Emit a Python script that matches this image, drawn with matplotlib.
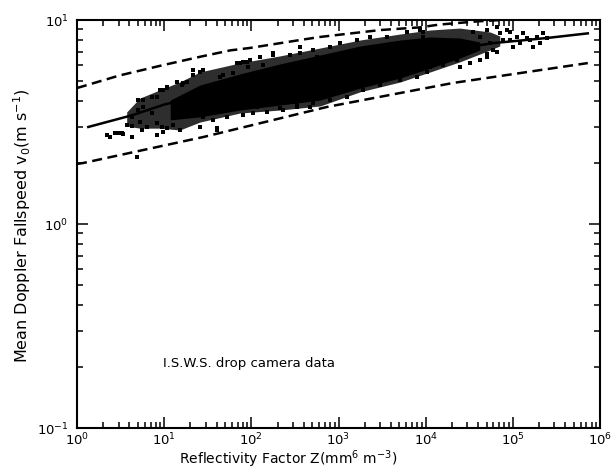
import matplotlib
matplotlib.use('Agg')
import numpy as np
import matplotlib.pyplot as plt
from matplotlib.ticker import LogLocator, NullFormatter, FixedLocator

# Отдельные точки облака: log10 Z и v0 (м/с)
pts_logz = [0.38, 0.52, 0.63, 0.69, 0.63, 0.72, 0.80, 0.86, 0.76, 0.70, 0.92, 0.99, 1.03,
            0.98, 1.03, 1.10, 1.18, 1.21, 1.26, 1.33, 1.41, 1.45, 1.61, 1.56, 1.64, 1.72,
            1.79, 1.95, 1.96, 2.02, 2.13, 2.18, 2.25, 2.36, 2.52, 2.56, 2.67, 2.75,
            0.34, 0.44, 0.57, 0.63, 0.70, 0.76, 0.86, 0.95, 1.03, 1.15, 1.22, 1.33, 1.45,
            1.68, 1.84, 1.90, 0.92, 0.99, 1.41, 1.61,
            1.87, 1.99, 2.10, 2.25, 2.44, 2.56, 2.71, 2.90, 3.02, 3.21, 3.36, 3.56, 3.79,
            3.97, 3.94, 2.07, 2.18, 2.33, 2.52, 2.71, 2.90, 3.10, 3.28, 3.48, 3.71, 3.90,
            4.02, 1.84, 1.90,
            3.97, 4.05, 4.20, 4.31, 4.39, 4.51, 4.54, 4.62, 4.70, 4.74, 4.77, 4.85, 4.93,
            4.97, 5.00, 5.08, 5.12, 5.20, 5.23, 5.31, 5.35, 5.39, 4.70, 4.62, 4.51, 4.39,
            4.89, 5.05, 5.16, 5.28, 4.82, 4.97, 4.70, 4.82, 4.36,
            0.47, 0.53, 0.75, 0.92]
pts_v = [2.67, 2.79, 2.67, 2.13, 3.02, 3.16, 2.99, 3.50, 3.75, 4.05, 4.19, 4.54, 4.70,
         2.99, 2.95, 3.06, 2.89, 4.80, 4.97, 5.69, 5.56, 3.35, 2.95, 3.24, 5.26, 3.35,
         5.50, 6.23, 5.88, 3.50, 6.02, 3.54, 6.74, 3.62, 3.92, 6.89, 3.75, 6.59,
         2.73, 2.79, 3.06, 3.35, 3.62, 4.05, 4.19, 4.54, 4.64, 4.97, 4.91, 5.38, 5.69,
         5.38, 6.16, 6.23, 3.13, 2.82, 2.99, 2.89,
         6.16, 6.37, 6.59, 6.89, 6.74, 7.37, 7.13, 7.37, 7.72, 7.98, 8.26, 8.26, 8.73,
         8.26, 8.93, 3.75, 3.54, 3.70, 3.75, 3.92, 4.05, 4.19, 4.54, 4.80, 5.08, 5.26,
         5.56, 3.92, 3.42,
         8.73, 5.88, 6.02, 6.59, 7.13, 7.72, 8.73, 8.26, 8.93, 7.72, 7.13, 8.64, 8.93,
         7.98, 7.37, 7.72, 8.64, 7.98, 7.37, 7.72, 8.64, 8.16, 6.59, 6.37, 6.16, 5.88,
         7.98, 8.26, 8.16, 8.26, 9.24, 8.73, 6.80, 6.97, 6.37,
         2.79, 2.76, 2.89, 2.73]

# Внешняя граница облака (там точки реже)
outer_logz = [0.57, 0.72, 0.95, 1.18, 1.41, 1.87, 2.33, 2.79, 3.25, 3.71, 4.05, 4.39, 4.74, 4.85]
outer_lo = [3.02, 2.95, 2.95, 2.89, 3.16, 3.50, 3.62, 3.79, 4.45, 4.97, 5.56, 6.23, 7.13, 7.46]
outer_hi = [3.54, 4.14, 4.54, 4.97, 5.56, 6.16, 6.67, 7.29, 7.98, 8.54, 8.93, 9.13, 8.73, 8.35]

# Плотное ядро облака (сплошная чёрная масса)
core_logz = [1.07, 1.41, 1.87, 2.33, 2.79, 3.25, 3.71, 4.05, 4.39, 4.62]
core_lo = [3.24, 3.35, 3.62, 3.83, 4.05, 4.64, 5.20, 5.80, 6.50, 7.13]
core_hi = [4.05, 4.80, 5.44, 6.09, 6.74, 7.46, 7.98, 8.26, 8.16, 7.80]

# Сплошная линия (подгонка)
fit_logz = [0.13, 0.64, 1.0, 2.0, 3.0, 4.0, 4.77, 5.39, 5.86]
fit_v = [2.99, 3.42, 3.85, 4.85, 5.85, 6.85, 7.70, 8.16, 8.60]

# Штриховые границы
up_logz = [0.0, 0.49, 0.98, 1.41, 1.76, 1.98, 2.56, 2.79, 3.48, 3.93, 4.16, 4.60, 5.20, 6.0]
up_v = [4.64, 5.35, 6.00, 6.60, 7.10, 7.29, 7.98, 8.26, 8.93, 9.20, 9.50, 9.85, 10.2, 10.5]
lo_logz = [0.0, 0.07, 1.45, 2.87, 4.31, 5.86]
lo_v = [1.97, 1.99, 2.67, 3.75, 4.91, 6.15]

fig = plt.figure(figsize=(6.14, 4.70), dpi=100)
ax = fig.add_axes([77 / 614, 1 - 428 / 470, 523 / 614, 408 / 470])

ax.fill_between(10 ** np.array(outer_logz), outer_lo, outer_hi, color='0.18', lw=0)
ax.fill_between(10 ** np.array(core_logz), core_lo, core_hi, color='black', lw=0)
ax.plot(10 ** np.array(fit_logz), fit_v, color='black', lw=1.8)
ax.scatter(10 ** np.array(pts_logz), pts_v, s=6, marker='s', color='black', lw=0)
ax.plot(10 ** np.array(up_logz), up_v, color='black', lw=1.8, ls=(0, (4, 2.2)))
ax.plot(10 ** np.array(lo_logz), lo_v, color='black', lw=1.8, ls=(0, (4, 2.2)))

ax.set_xscale('log')
ax.set_yscale('log')
ax.set_xlim(1, 1e6)
ax.set_ylim(0.1, 10)

ax.xaxis.set_major_locator(FixedLocator([10.0 ** k for k in range(7)]))
ax.yaxis.set_major_locator(FixedLocator([0.1, 1, 10]))
ax.xaxis.set_minor_locator(LogLocator(base=10, subs=np.arange(2, 10), numticks=20))
ax.yaxis.set_minor_locator(LogLocator(base=10, subs=np.arange(2, 10), numticks=20))
ax.xaxis.set_minor_formatter(NullFormatter())
ax.yaxis.set_minor_formatter(NullFormatter())
ax.set_xticklabels([r'$10^{%d}$' % k for k in range(7)])
ax.set_yticklabels([r'$10^{-1}$', r'$10^{0}$', r'$10^{1}$'])

ax.tick_params(which='both', direction='in', top=True, right=True, labelsize=9.5, width=1.1)
ax.tick_params(axis='x', which='major', length=8, pad=2.5)
ax.tick_params(axis='y', which='major', length=8, pad=6)
ax.tick_params(which='minor', length=4.5)
for sp in ax.spines.values():
    sp.set_linewidth(1.5)

ax.text(10 ** 0.99, 0.208, 'I.S.W.S. drop camera data', fontsize=9.5, va='center')

fig.text(288 / 614, 0.0, r'Reflectivity Factor Z(mm$^6$ m$^{-3}$)', ha='center',
         va='bottom', fontsize=10)
fig.text(0.018, 0.52, r'Mean Doppler Fallspeed v$_0$(m s$^{-1}$)', rotation=90,
         ha='left', va='center', fontsize=11.5)

fig.savefig('out.png', dpi=100)
